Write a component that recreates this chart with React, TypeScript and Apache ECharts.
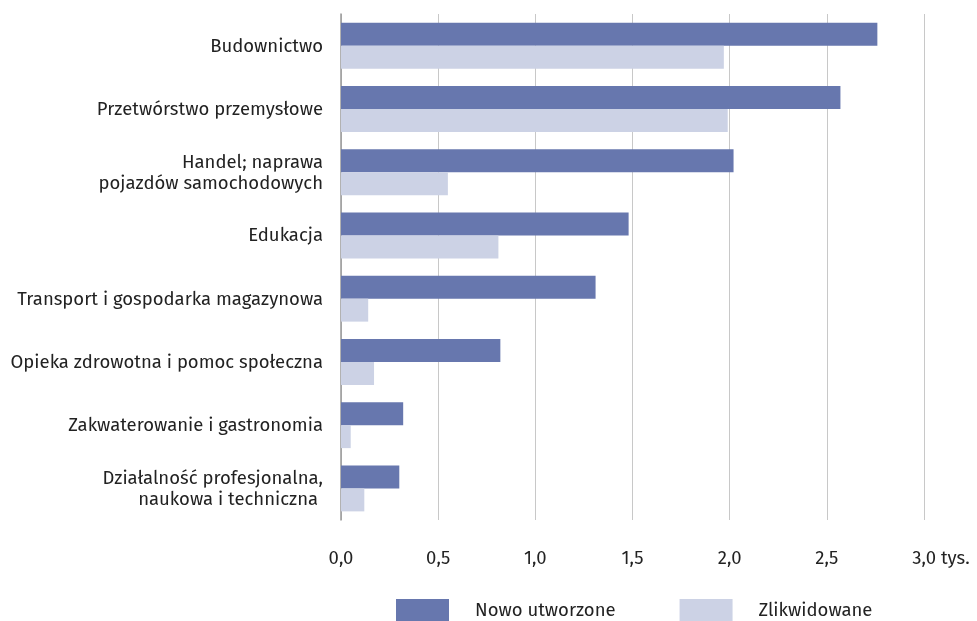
import React, { useEffect, useRef } from "react";
import * as echarts from "echarts";

const categories = [
  "Budownictwo",
  "Przetwórstwo przemysłowe",
  "Handel; naprawa\npojazdów samochodowych",
  "Edukacja",
  "Transport i gospodarka magazynowa",
  "Opieka zdrowotna i pomoc społeczna",
  "Zakwaterowanie i gastronomia",
  "Działalność profesjonalna,\nnaukowa i techniczna ",
];
const nowoUtworzone = [2.76, 2.57, 2.02, 1.48, 1.31, 0.82, 0.32, 0.3];
const zlikwidowane = [1.97, 1.99, 0.55, 0.81, 0.14, 0.17, 0.05, 0.12];
const seriesNames = ["Nowo utworzone", "Zlikwidowane"];

const FONT = "'Fira Sans', 'Noto Sans', sans-serif";
const FS = 18.5;

export default function App() {
  const ref = useRef<HTMLDivElement>(null);
  useEffect(() => {
    if (!ref.current) return;
    const chart = echarts.init(ref.current, null, { renderer: "svg" });
    chart.setOption({
      animation: false,
      textStyle: { fontFamily: FONT },
      grid: { left: 341, right: 53, top: 14, bottom: 101, containLabel: false },
      legend: {
        top: 599,
        left: 396,
        padding: 0,
        itemWidth: 53,
        itemHeight: 22,
        itemGap: 64,
        icon: "rect",
        textStyle: { fontSize: FS, color: "#222", fontFamily: FONT, padding: [0, 0, 0, 21] },
        data: seriesNames,
      },
      xAxis: {
        type: "value",
        min: 0,
        max: 3,
        interval: 0.5,
        axisLine: { show: false },
        axisTick: { show: false },
        splitLine: { show: true, lineStyle: { color: "#c8c8c8", width: 1 } },
        axisLabel: {
          margin: 28,
          fontSize: FS,
          color: "#222",
          fontFamily: FONT,
          formatter: (v: number) =>
            v === 3 ? "{t|3,0 tys.}" : v.toFixed(1).replace(".", ","),
          rich: { t: { fontSize: FS, color: "#222", fontFamily: FONT, padding: [0, 0, 0, 34] } },
        },
      },
      yAxis: {
        type: "category",
        inverse: true,
        data: categories,
        axisLine: { show: true, lineStyle: { color: "#999", width: 1.5 } },
        axisTick: { show: false },
        axisLabel: {
          margin: 18,
          fontSize: FS,
          lineHeight: 21,
          color: "#222",
          fontFamily: FONT,
        },
      },
      series: [
        {
          name: seriesNames[0],
          type: "bar",
          data: nowoUtworzone,
          barWidth: 23,
          barGap: "0%",
          itemStyle: { color: "#6777ae" },
        },
        {
          name: seriesNames[1],
          type: "bar",
          data: zlikwidowane,
          barWidth: 23,
          barGap: "0%",
          itemStyle: { color: "#ccd2e5" },
        },
      ],
    });
    return () => chart.dispose();
  }, []);
  return (
    <div
      ref={ref}
      style={{ position: "fixed", left: 0, top: 0, width: 977, height: 621 }}
    />
  );
}
